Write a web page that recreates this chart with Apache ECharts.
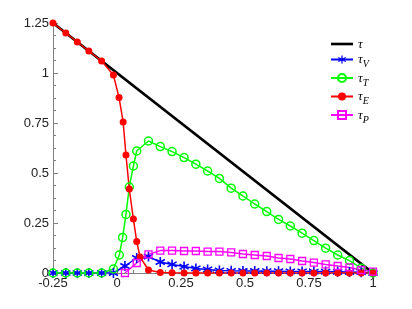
<!DOCTYPE html>
<html><head><meta charset="utf-8">
<script src="https://cdn.jsdelivr.net/npm/echarts@6/dist/echarts.min.js"></script>
<style>html,body{margin:0;padding:0;background:#fff}#c{width:412px;height:309px}</style>
</head><body><div id="c"></div>
<script>
// tick labels
const xTicks = [-0.25, 0, 0.25, 0.5, 0.75, 1];
const yTicks = [0, 0.25, 0.5, 0.75, 1, 1.25];

// tau (total)
const tauX = [-0.25, 1.0];
const tauY = [1.25, 0.0];

// grid used by most series after the jump
const gridX = [0.123,0.169,0.215,0.262,0.308,0.354,0.400,0.446,0.492,0.538,0.585,0.631,0.677,0.723,0.769,0.815,0.862,0.908,0.954,1.0];

// tau_V (blue stars)
const vX = [-0.25,-0.2,-0.155,-0.11,-0.06,-0.014,0.031,0.077].concat(gridX);
const vY = [0,0,0,0,0,0,0.035,0.075,0.082,0.055,0.043,0.032,0.023,0.018,0.013,0.011,0.010,0.010,0.009,0.009,0.008,0.008,0.007,0.007,0.006,0.005,0.004,0.0];

// tau_T (green circles)
const tX = [-0.25,-0.2,-0.155,-0.11,-0.06,-0.014,0.009,0.022,0.035,0.048,0.064,0.077].concat(gridX);
const tY = [0,0,0,0,0,0.02,0.09,0.178,0.293,0.43,0.535,0.61,0.66,0.632,0.607,0.577,0.544,0.51,0.473,0.424,0.385,0.345,0.307,0.268,0.235,0.199,0.162,0.124,0.09,0.062,0.024,0.0];

// tau_E (red dots)
const eX = [-0.25,-0.2,-0.155,-0.11,-0.06,-0.014,0.008,0.024,0.035,0.048,0.064,0.077,0.09].concat(gridX);
const eY = [1.25,1.2,1.155,1.11,1.06,0.99,0.877,0.755,0.59,0.42,0.27,0.157,0.08,0.015,0.003,0.001,0,0,0,0,0,0,0,0,0,0,0,0,0,0,0,0,0,0];

// tau_P (magenta squares)
const pX = [0.031,0.077].concat(gridX);
const pY = [0,0.05,0.093,0.112,0.112,0.11,0.11,0.107,0.107,0.103,0.095,0.09,0.085,0.075,0.07,0.06,0.052,0.043,0.035,0.028,0.015,0.007,0.0];

const names = ['τ','τ_V','τ_T','τ_E','τ_P'];
const zip = (a,b) => a.map((v,i)=>[v,b[i]]);
const star = 'path://M-0.15,1L0.15,1L0.15,-1L-0.15,-1ZM0.791,0.63L0.941,0.37L-0.791,-0.63L-0.941,-0.37ZM-0.941,0.37L-0.791,0.63L0.941,-0.37L0.791,-0.63Z';

const axisCol = '#808080';
const chart = echarts.init(document.getElementById('c'), null, {renderer:'canvas'});
chart.setOption({
  animation:false,
  grid:{left:53, right:39, top:23, bottom:36},
  legend:{
    orient:'vertical', left:325, top:33, itemWidth:22, itemHeight:10, itemGap:2.5,
    data:[{name:names[0], icon:'path://M0,0L10,0L10,1.2L0,1.2Z', itemHeight:3}, names[1], names[2], names[3], names[4]],
    formatter: n => n.indexOf('_')>=0 ? '{t|τ}{s|'+n.split('_')[1]+'}' : '{t|τ}',
    textStyle:{ rich:{
      t:{fontFamily:'Liberation Serif', fontStyle:'italic', fontSize:13, lineHeight:14, color:'#000', verticalAlign:'bottom'},
      s:{fontFamily:'Liberation Serif', fontStyle:'italic', fontSize:10, lineHeight:14, color:'#000', verticalAlign:'bottom', padding:[0,0,-3,0]}
    }}
  },
  xAxis:{type:'value', min:xTicks[0], max:xTicks[xTicks.length-1], interval:0.25,
    axisLine:{show:true, onZero:false, lineStyle:{color:axisCol, width:1}},
    axisTick:{show:true, inside:true, length:5, lineStyle:{color:axisCol}},
    minorTick:{show:true, splitNumber:4, length:3, lineStyle:{color:axisCol}},
    splitLine:{show:false},
    axisLabel:{margin:4, color:'#222', fontFamily:'Liberation Sans', fontSize:13, formatter:v=>String(v)}
  },
  yAxis:{type:'value', min:yTicks[0], max:yTicks[yTicks.length-1], interval:0.25,
    axisLine:{show:true, onZero:false, lineStyle:{color:axisCol, width:1}},
    axisTick:{show:true, inside:true, length:5, lineStyle:{color:axisCol}},
    minorTick:{show:true, splitNumber:4, length:3, lineStyle:{color:axisCol}},
    splitLine:{show:false},
    axisLabel:{margin:4, color:'#222', fontFamily:'Liberation Sans', fontSize:13, formatter:v=>String(v)}
  },
  series:[
    {name:names[0], type:'line', data:zip(tauX,tauY), symbol:'none', lineStyle:{color:'#000', width:2.8}, itemStyle:{color:'#000'}},
    {name:names[1], type:'line', data:zip(vX,vY), symbol:star, symbolSize:10, lineStyle:{color:'#0000ff', width:1.5}, itemStyle:{color:'#0000ff'}},
    {name:names[2], type:'line', data:zip(tX,tY), symbol:'circle', symbolSize:8, lineStyle:{color:'#00ff00', width:1.5}, itemStyle:{color:'rgba(0,0,0,0)', borderColor:'#00ff00', borderWidth:1.5}},
    {name:names[3], type:'line', data:zip(eX,eY), symbol:'circle', symbolSize:7, lineStyle:{color:'#ff0000', width:1.5}, itemStyle:{color:'#ff0000'}},
    {name:names[4], type:'line', data:zip(pX,pY), symbol:'rect', symbolSize:7, lineStyle:{color:'#ff00ff', width:1.5}, itemStyle:{color:'rgba(0,0,0,0)', borderColor:'#ff00ff', borderWidth:1.3}}
  ]
});
</script></body></html>
